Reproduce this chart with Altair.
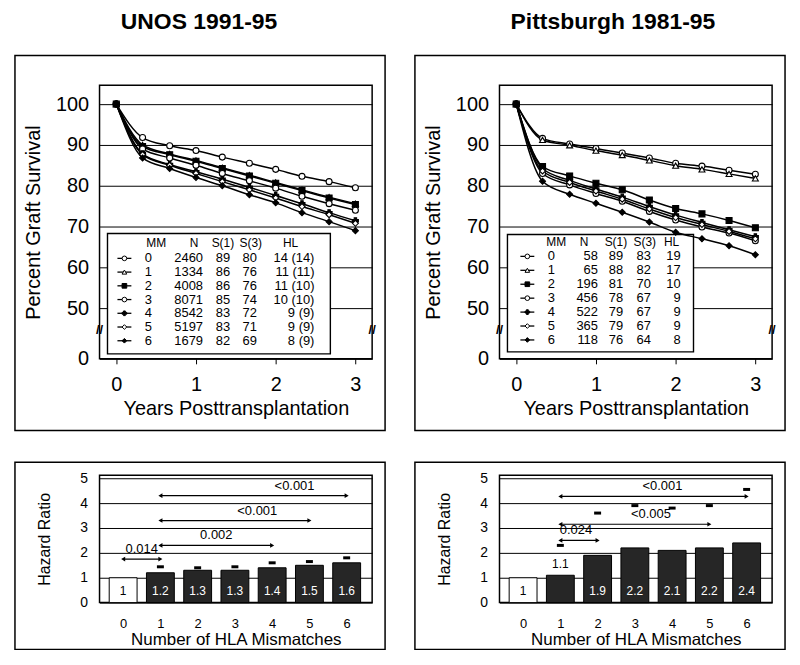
import altair as alt
import pandas as pd

FONT = "Liberation Sans"

# ---------------- data ----------------
YEARS = [0, 0.33, 0.67, 1.0, 1.33, 1.67, 2.0, 2.33, 2.67, 3.0]
MM_LABELS = ["0", "1", "2", "3", "4", "5", "6"]

UNOS_MM0 = [100, 91.8, 89.8, 88.6, 87.0, 85.5, 84.0, 82.3, 81.0, 79.5]
UNOS_MM1 = [100, 90.0, 87.8, 86.2, 84.4, 82.6, 80.8, 79.0, 77.2, 75.6]
UNOS_MM2 = [100, 89.6, 87.6, 86.0, 84.2, 82.4, 80.6, 78.8, 77.0, 75.4]
UNOS_MM3 = [100, 89.0, 86.8, 85.0, 83.0, 81.2, 79.4, 77.4, 75.6, 74.0]
UNOS_MM4 = [100, 87.8, 85.2, 83.4, 81.6, 79.6, 77.6, 75.6, 73.4, 71.4]
UNOS_MM5 = [100, 87.6, 85.0, 83.0, 81.0, 79.0, 77.0, 74.9, 72.9, 70.8]
UNOS_MM6 = [100, 86.8, 84.2, 82.0, 80.0, 77.8, 75.8, 73.4, 71.2, 69.0]

PITT_MM0 = [100, 91.6, 90.2, 89.1, 88.0, 86.8, 85.5, 84.8, 83.8, 82.8]
PITT_MM1 = [100, 91.2, 89.9, 88.6, 87.5, 86.2, 84.9, 84.0, 82.9, 81.8]
PITT_MM2 = [100, 84.7, 82.4, 80.6, 79.0, 76.5, 74.4, 73.1, 71.5, 69.7]
PITT_MM3 = [100, 83.0, 80.2, 78.1, 76.2, 73.7, 71.6, 69.9, 68.4, 66.5]
PITT_MM4 = [100, 84.2, 81.3, 79.2, 77.2, 74.9, 72.8, 71.0, 69.2, 67.5]
PITT_MM5 = [100, 83.6, 80.8, 78.7, 76.7, 74.3, 72.2, 70.5, 68.8, 67.0]
PITT_MM6 = [100, 81.1, 77.9, 75.7, 73.5, 71.1, 68.6, 67.0, 65.3, 63.1]

TABLE_HEADERS = ["MM", "N", "S(1)", "S(3)", "HL"]
UNOS_N = ["2460", "1334", "4008", "8071", "8542", "5197", "1679"]
UNOS_S1 = ["89", "86", "86", "85", "83", "83", "82"]
UNOS_S3 = ["80", "76", "76", "74", "72", "71", "69"]
UNOS_HL = ["14 (14)", "11 (11)", "11 (10)", "10 (10)", "9 (9)", "9 (9)", "8 (9)"]

PITT_N = ["58", "65", "196", "456", "522", "365", "118"]
PITT_S1 = ["89", "88", "81", "78", "79", "79", "76"]
PITT_S3 = ["83", "82", "70", "67", "67", "67", "64"]
PITT_HL = ["19", "17", "10", "9", "9", "9", "8"]

HLA_MM = [0, 1, 2, 3, 4, 5, 6]
UNOS_HR = [1.0, 1.2, 1.3, 1.3, 1.4, 1.5, 1.6]
UNOS_HR_LABEL = ["1", "1.2", "1.3", "1.3", "1.4", "1.5", "1.6"]
UNOS_HR_UPPER = [None, 1.44, 1.4, 1.44, 1.6, 1.65, 1.8]
PITT_HR = [1.0, 1.1, 1.9, 2.2, 2.1, 2.2, 2.4]
PITT_HR_LABEL = ["1", "1.1", "1.9", "2.2", "2.1", "2.2", "2.4"]
PITT_HR_UPPER = [None, 2.3, 3.6, 3.9, 3.8, 3.9, 4.55]

UNOS_P_FROM = [0, 1, 1, 1]
UNOS_P_TO = [1, 4, 5, 6]
UNOS_P_AT = [1.75, 2.3, 3.3, 4.3]
UNOS_P_TEXT = ["0.014", "0.002", "<0.001", "<0.001"]
UNOS_P_TEXT_X = [0.5, 2.5, 3.6, 4.6]

PITT_P_FROM = [1, 1, 1]
PITT_P_TO = [2, 5, 6]
PITT_P_AT = [2.5, 3.15, 4.27]
PITT_P_TEXT = ["0.024", "<0.005", "<0.001"]
PITT_P_TEXT_X = [1.42, 3.43, 3.74]

# ---------------- style ----------------
SHAPES = ["circle", "triangle-up", "square", "circle", "cross", "diamond", "diamond"]
FILLS = ["white", "white", "black", "white", "black", "white", "black"]
W, H1, H2 = 274, 275, 128
XDOM = [-0.21, 3.21]
ZERO = 37.6
YDOM = [ZERO, 104.6]

shape_enc = alt.Shape("MM:N", scale=alt.Scale(domain=MM_LABELS, range=SHAPES), legend=None)
fill_enc = alt.Fill("MM:N", scale=alt.Scale(domain=MM_LABELS, range=FILLS), legend=None)


def frame(x0, x1, y0, y1):
    return alt.Chart().mark_rect(fill="transparent", stroke="black", strokeWidth=1.5).encode(
        x=alt.value(x0), x2=alt.value(x1), y=alt.value(y0), y2=alt.value(y1))


def survival_panel(series, n, s1, s3, hl, title, title_x, tb):
    rows = []
    for mm, vals in zip(MM_LABELS, series):
        for yr, v in zip(YEARS, vals):
            rows.append({"year": yr, "surv": v, "MM": mm})
    df = pd.DataFrame(rows)
    xs = alt.Scale(domain=XDOM, nice=False, zero=False)
    ys = alt.Scale(domain=YDOM, nice=False, zero=False)
    xax = alt.Axis(values=[0, 1, 2, 3], title="Years Posttransplantation", grid=False,
                   domain=False, ticks=True, tickSize=5, tickColor="black", labelFontSize=20,
                   labelPadding=11, labelColor="black", titleFontSize=20, titleFontWeight="normal",
                   titleColor="black", titleY=50, titleBaseline="middle", labelFont=FONT, titleFont=FONT)
    yax = alt.Axis(values=[ZERO, 50, 60, 70, 80, 90, 100],
                   labelExpr="datum.value < 45 ? '0' : datum.label",
                   title="Percent Graft Survival", grid=True, gridColor="black", gridWidth=1,
                   gridOpacity=1, domain=False, ticks=False, tickSize=0, labelFontSize=20,
                   labelPadding=11, labelColor="black", titleFontSize=20, titleFontWeight="normal",
                   titleColor="black", titleX=-66, titleBaseline="middle", labelFont=FONT, titleFont=FONT)
    base = alt.Chart(df)
    lines = base.mark_line(color="black", strokeWidth=1.5, interpolate="monotone").encode(
        x=alt.X("year:Q", scale=xs, axis=xax), y=alt.Y("surv:Q", scale=ys, axis=yax), detail="MM:N")
    pts = base.mark_point(filled=True, stroke="black", strokeWidth=1.1, size=36, opacity=1).encode(
        x=alt.X("year:Q", scale=xs, axis=xax), y=alt.Y("surv:Q", scale=ys, axis=yax),
        shape=shape_enc, fill=fill_enc)

    # legend table
    trows = []
    for i, mm in enumerate(MM_LABELS):
        trows.append({"MM": mm, "N": n[i], "S1": s1[i], "S3": s3[i], "HL": hl[i],
                      "py": tb["row0"] + i * tb["dy"],
                      "sx0": tb["sym"] - 7, "sx1": tb["sym"] + 7, "sx": tb["sym"]})
    tdf = pd.DataFrame(trows)
    tbase = alt.Chart(tdf)
    py = alt.Y("py:Q", scale=None)
    box = alt.Chart().mark_rect(fill="white", stroke="black", strokeWidth=1.4).encode(
        x=alt.value(tb["box"][0]), x2=alt.value(tb["box"][1]),
        y=alt.value(tb["box"][2]), y2=alt.value(tb["box"][3]))
    sym_line = tbase.mark_rule(color="black", strokeWidth=1.3).encode(
        x=alt.X("sx0:Q", scale=None), x2="sx1:Q", y=py)
    sym_pt = tbase.mark_point(filled=True, stroke="black", strokeWidth=1, size=22, opacity=1).encode(
        x=alt.X("sx:Q", scale=None), y=py, shape=shape_enc, fill=fill_enc)
    tf = 13
    col_mm = tbase.mark_text(align="center", fontSize=tf, font=FONT).encode(
        x=alt.value(tb["mm"]), y=py, text="MM:N")
    col_n = tbase.mark_text(align="right", fontSize=tf, font=FONT).encode(
        x=alt.value(tb["n"]), y=py, text="N:N")
    col_s1 = tbase.mark_text(align="center", fontSize=tf, font=FONT).encode(
        x=alt.value(tb["s1"]), y=py, text="S1:N")
    col_s3 = tbase.mark_text(align="center", fontSize=tf, font=FONT).encode(
        x=alt.value(tb["s3"]), y=py, text="S3:N")
    col_hl = tbase.mark_text(align="right", fontSize=tf, font=FONT).encode(
        x=alt.value(tb["hl"]), y=py, text="HL:N")
    hdf = pd.DataFrame({"h": TABLE_HEADERS, "hx": tb["hx"], "hy": [tb["head"]] * 5})
    head = alt.Chart(hdf).mark_text(align="center", fontSize=12, font=FONT).encode(
        x=alt.X("hx:Q", scale=None), y=alt.Y("hy:Q", scale=None), text="h:N")

    brk = alt.Chart().mark_text(text="//", fontSize=13, font=FONT, fontWeight="bold",
                                color="black").encode(x=alt.value(0), y=alt.value(246))
    brk2 = alt.Chart().mark_text(text="//", fontSize=13, font=FONT, fontWeight="bold",
                                 color="black").encode(x=alt.value(W), y=alt.value(246))
    ttl = alt.Chart().mark_text(text=title, fontSize=23, fontWeight="bold", font=FONT,
                                color="black").encode(x=alt.value(title_x), y=alt.value(-64))
    fr = frame(-85, 287, -30, 347)
    return alt.layer(fr, ttl, box, lines, pts, sym_line, sym_pt, head, col_mm, col_n, col_s1,
                     col_s3, col_hl, brk, brk2).properties(width=W, height=H1)


def hazard_panel(hr, hr_lab, upper, p_from, p_to, p_at, p_text, p_text_x, above):
    lab_y = [(h + 0.47) if i in above else 0.45 for i, h in enumerate(hr)]
    lab_col = ["black" if (i == 0 or i in above) else "white" for i in range(len(hr))]
    df = pd.DataFrame({"mm": HLA_MM, "hr": hr, "lab": hr_lab, "up": upper,
                       "ly": lab_y, "lc": lab_col})
    xs = alt.Scale(domain=[-0.5, 6.55], nice=False, zero=False)
    ys = alt.Scale(domain=[0, 5.12], nice=False)
    xax = alt.Axis(values=HLA_MM, title="Number of HLA Mismatches", grid=False, domain=False,
                   ticks=False, tickSize=0, labelFontSize=13, labelPadding=15, labelColor="black",
                   titleFontSize=17, titleFontWeight="normal", titleColor="black", titleY=37,
                   titleBaseline="middle", labelFont=FONT, titleFont=FONT)
    yax = alt.Axis(values=[0, 1, 2, 3, 4, 5], title="Hazard Ratio", grid=True, gridColor="black",
                   gridWidth=1, gridOpacity=1, domain=False, ticks=False, tickSize=0,
                   labelFontSize=14, labelPadding=12, labelColor="black", titleFontSize=16,
                   titleFontWeight="normal", titleColor="black", titleX=-55,
                   titleBaseline="middle", labelFont=FONT, titleFont=FONT)
    base = alt.Chart(df)
    X = alt.X("mm:Q", scale=xs, axis=xax)
    bars = base.mark_bar(width=28, stroke="black", strokeWidth=1).encode(
        x=X, y=alt.Y("hr:Q", scale=ys, axis=yax),
        fill=alt.condition("datum.mm == 0", alt.value("white"), alt.value("#262626")))
    labs = base.mark_text(fontSize=12, font=FONT).encode(
        x=X, y=alt.Y("ly:Q", scale=ys, axis=yax), text="lab:N",
        color=alt.Color("lc:N", scale=None))
    ups = base.transform_filter("datum.up != null").mark_tick(
        orient="horizontal", size=7, thickness=3, color="black", opacity=1).encode(
        x=X, y=alt.Y("up:Q", scale=ys, axis=yax))

    pdf = pd.DataFrame({"x0": p_from, "x1": p_to, "py": p_at, "pt": p_text, "px": p_text_x,
                        "ty": [a + 0.4 for a in p_at]})
    pb = alt.Chart(pdf)
    rule = pb.mark_rule(color="black", strokeWidth=1.2).encode(
        x=alt.X("x0:Q", scale=xs, axis=xax), x2="x1:Q", y=alt.Y("py:Q", scale=ys, axis=yax))
    hl_ = pb.mark_point(shape="triangle-left", filled=True, color="black", size=22, opacity=1).encode(
        x=alt.X("x0:Q", scale=xs, axis=xax), y=alt.Y("py:Q", scale=ys, axis=yax))
    hr_ = pb.mark_point(shape="triangle-right", filled=True, color="black", size=22, opacity=1).encode(
        x=alt.X("x1:Q", scale=xs, axis=xax), y=alt.Y("py:Q", scale=ys, axis=yax))
    ptxt = pb.mark_text(fontSize=13, font=FONT).encode(
        x=alt.X("px:Q", scale=xs, axis=xax), y=alt.Y("ty:Q", scale=ys, axis=yax), text="pt:N")
    fr = frame(-85, 287, -13, 175)
    return alt.layer(fr, bars, labs, ups, rule, hl_, hr_, ptxt).properties(width=W, height=H2)


TB_UNOS = {"box": (8, 232, 149, 270), "head": 159, "row0": 174, "dy": 13.8, "sym": 25,
           "mm": 49, "n": 104, "s1": 124, "s3": 151, "hl": 216,
           "hx": [57, 95, 124, 152, 192]}
TB_PITT = {"box": (8, 195, 150, 268), "head": 158, "row0": 172, "dy": 14, "sym": 28,
           "mm": 52, "n": 99, "s1": 117, "s3": 145, "hl": 182,
           "hx": [57, 85, 117, 146, 173]}

tl = survival_panel([UNOS_MM0, UNOS_MM1, UNOS_MM2, UNOS_MM3, UNOS_MM4, UNOS_MM5, UNOS_MM6],
                    UNOS_N, UNOS_S1, UNOS_S3, UNOS_HL, "UNOS 1991-95", 100, TB_UNOS)
tr = survival_panel([PITT_MM0, PITT_MM1, PITT_MM2, PITT_MM3, PITT_MM4, PITT_MM5, PITT_MM6],
                    PITT_N, PITT_S1, PITT_S3, PITT_HL, "Pittsburgh 1981-95", 114, TB_PITT)
bl = hazard_panel(UNOS_HR, UNOS_HR_LABEL, UNOS_HR_UPPER, UNOS_P_FROM, UNOS_P_TO, UNOS_P_AT,
                  UNOS_P_TEXT, UNOS_P_TEXT_X, above=[])
br = hazard_panel(PITT_HR, PITT_HR_LABEL, PITT_HR_UPPER, PITT_P_FROM, PITT_P_TO, PITT_P_AT,
                  PITT_P_TEXT, PITT_P_TEXT_X, above=[1])

chart = alt.concat(tl, tr, bl, br, columns=2, spacing={"row": 117, "column": 128},
                   bounds="flush").properties(
    padding={"left": 5, "top": 0, "right": 5, "bottom": 0}, background="white"
).configure_view(stroke="black", strokeWidth=1.5).configure_text(font=FONT)

chart.save("out.html", embed_options={"renderer": "svg", "actions": False})
